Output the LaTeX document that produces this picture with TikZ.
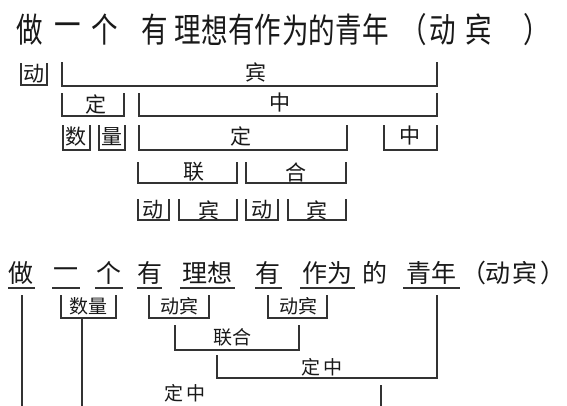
\documentclass[tikz,border=0pt]{standalone}
\usepackage{fontspec}
\newfontfamily\cjk{Noto Sans CJK SC}
\newfontfamily\cjknarrow[FakeStretch=0.78]{Noto Sans CJK SC}
\newcommand\mybrk[4]{\draw[br] (#1,#3) -- (#1,#4) -- (#2,#4) -- (#2,#3);}
\begin{document}
\begin{tikzpicture}[x=1pt,y=-1pt,
  br/.style={line width=1.1pt, draw=black!80},
  top/.style={font=\cjknarrow\fontsize{34}{34}\selectfont, inner sep=0pt, text=black!90},
  big/.style={font=\cjk\fontsize{25}{25}\selectfont, inner sep=0pt, text=black!90},
  lab/.style={font=\cjk\fontsize{21}{21}\selectfont, inner sep=0pt, text=black!90},
  sml/.style={font=\cjk\fontsize{19}{19}\selectfont, inner sep=0pt, text=black!90}]
\useasboundingbox[fill=white] (0,0) rectangle (567,405);

% ---------- top sentence ----------
\foreach \c/\x [count=\i] in {做/30,一/68,个/105,有/155,理/188,想/215,有/242,作/268,为/296,的/322,青/349,年/376,（/414,动/443,宾/479,）/537}
  \node[top] (t\i) at (\x,30) {\c};

% row 1
\mybrk{21}{47}{63}{85}   \node[lab] (r1a) at (34,74) {动};
\mybrk{62}{437}{62}{86}  \node[lab] (r1b) at (256,72) {宾};
% row 2
\mybrk{62}{124}{93}{116}  \node[lab] (r2a) at (96,104) {定};
\mybrk{139}{437}{93}{116} \node[lab] (r2b) at (280,103) {中};
% row 3
\mybrk{63}{90}{125}{150}   \node[lab] (r3a) at (76,137) {数};
\mybrk{99}{125}{125}{150}  \node[lab] (r3b) at (112,137) {量};
\mybrk{139}{347}{125}{150} \node[lab] (r3c) at (241,136) {定};
\mybrk{384}{437}{125}{150} \node[lab] (r3d) at (410,136) {中};
% row 4
\mybrk{138}{237}{162}{183} \node[lab] (r4a) at (194,172) {联};
\mybrk{246}{346}{162}{183} \node[lab] (r4b) at (296,172) {合};
% row 5
\mybrk{138}{169}{199}{220} \node[lab] (r5a) at (153,210) {动};
\mybrk{179}{237}{199}{220} \node[lab] (r5b) at (209,210) {宾};
\mybrk{246}{278}{199}{220} \node[lab] (r5c) at (262,210) {动};
\mybrk{288}{346}{199}{220} \node[lab] (r5d) at (317,210) {宾};

% ---------- bottom sentence ----------
\foreach \w/\x [count=\i] in {做/21,一/66,个/109,有/150,理想/207,有/268,作为/327,的/375,青年/431,（/474,动/498,宾/525,）/553}
  \node[big] (b\i) at (\x,273) {\w};
% underlines
\foreach \a/\b in {8/35,52/80,95/123,137/162,180/235,255/282,300/355,403/460}
  \draw[br] (\a,288) -- (\b,288);

% boxes
\mybrk{61}{116}{295}{318}  \node[sml] (s1) at (88,306) {数量};
\mybrk{149}{209}{295}{318} \node[sml] (s2) at (179,306) {动宾};
\mybrk{268}{327}{295}{318} \node[sml] (s3) at (298,306) {动宾};
\mybrk{175}{299}{325}{350} \node[sml] (s4) at (232,337) {联合};
\draw[br] (217,355) -- (217,378) -- (437,378) -- (437,295);
\node[sml] (s5) at (322,367) {定\,中};
% long verticals
\draw[br] (22,295) -- (22,410);
\draw[br] (82,318) -- (82,410);
\draw[br] (381,385) -- (381,410);
\node[sml] (s6) at (185,393) {定\,中};
\end{tikzpicture}
\end{document}
